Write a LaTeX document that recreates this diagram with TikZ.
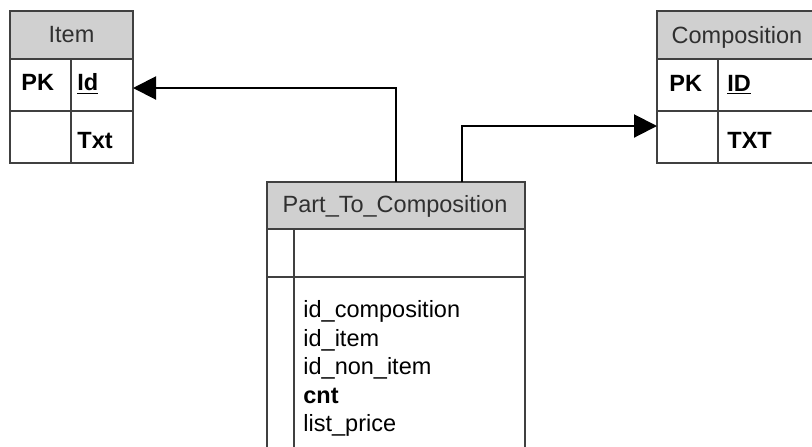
\documentclass[tikz,border=0pt]{standalone}
\usepackage{fontspec}
\setmainfont{Liberation Sans}
\usepackage{xcolor}
\usetikzlibrary{arrows.meta}
\definecolor{hdrgray}{RGB}{208,208,208}
\definecolor{linegray}{RGB}{64,64,64}
\definecolor{txtgray}{RGB}{48,48,48}
\newcommand{\tabfont}{\fontsize{11.75}{14}\selectfont}

\begin{document}
\begin{tikzpicture}[x=0.5pt,y=-0.5pt,
    tline/.style={draw=linegray,line width=1pt},
    hdrtext/.style={anchor=base,inner sep=0pt,font=\tabfont,text=txtgray},
    fld/.style={anchor=base west,inner sep=0pt,font=\tabfont},
    conn/.style={line width=1pt,-{Triangle[length=11.5pt,width=11.5pt]}}]
    \useasboundingbox (0,0) rectangle (812,446);
    \clip (0,0) rectangle (812,446);

    % Item table
    \fill[hdrgray] (10,11) rectangle (133,59);
    \draw[tline] (10,11) rectangle (133,163);
    \draw[tline] (10,59) -- (133,59) (10,111) -- (133,111) (71,59) -- (71,163);
    \node[hdrtext] (item) at (71.5,42) {Item};
    \node[fld] (itemPK) at (21,90) {\bfseries PK};
    \node[fld] (itemId) at (77,90) {\bfseries\underline{Id}};
    \node[fld] (itemTxt) at (77,148) {\bfseries Txt};

    % Composition table
    \fill[hdrgray] (657,11) rectangle (817,59);
    \draw[tline] (657,11) rectangle (817,163);
    \draw[tline] (657,59) -- (817,59) (657,111) -- (817,111) (718,59) -- (718,163);
    \node[hdrtext] (comp) at (737,43) {Composition};
    \node[fld] (compPK) at (669,91) {\bfseries PK};
    \node[fld] (compId) at (727,91) {\bfseries\underline{ID}};
    \node[fld] (compTxt) at (727,148) {\bfseries TXT};

    % Part_To_Composition table
    \fill[hdrgray] (267,182) rectangle (525,229);
    \draw[tline] (267,460) -- (267,182) -- (525,182) -- (525,460);
    \draw[tline] (267,229) -- (525,229) (267,277) -- (525,277) (294,229) -- (294,460);
    \node[hdrtext] (ptc) at (395,212) {Part\_To\_Composition};
    \node[fld] (ptcComp) at (303,317) {id\_composition};
    \node[fld] (ptcItem) at (303,346) {id\_item};
    \node[fld] (ptcNonItem) at (303,374) {id\_non\_item};
    \node[fld] (ptcCnt) at (303,403) {\bfseries cnt};
    \node[fld] (ptcPrice) at (303,431) {list\_price};

    % Connectors
    \coordinate (ptcOutL) at (396,182);
    \coordinate (ptcOutR) at (462,182);
    \coordinate (itemIn) at (133,88);
    \coordinate (compIn) at (657,126);
    \draw[conn] (ptcOutL) |- (itemIn);
    \draw[conn] (ptcOutR) |- (compIn);
\end{tikzpicture}
\end{document}
